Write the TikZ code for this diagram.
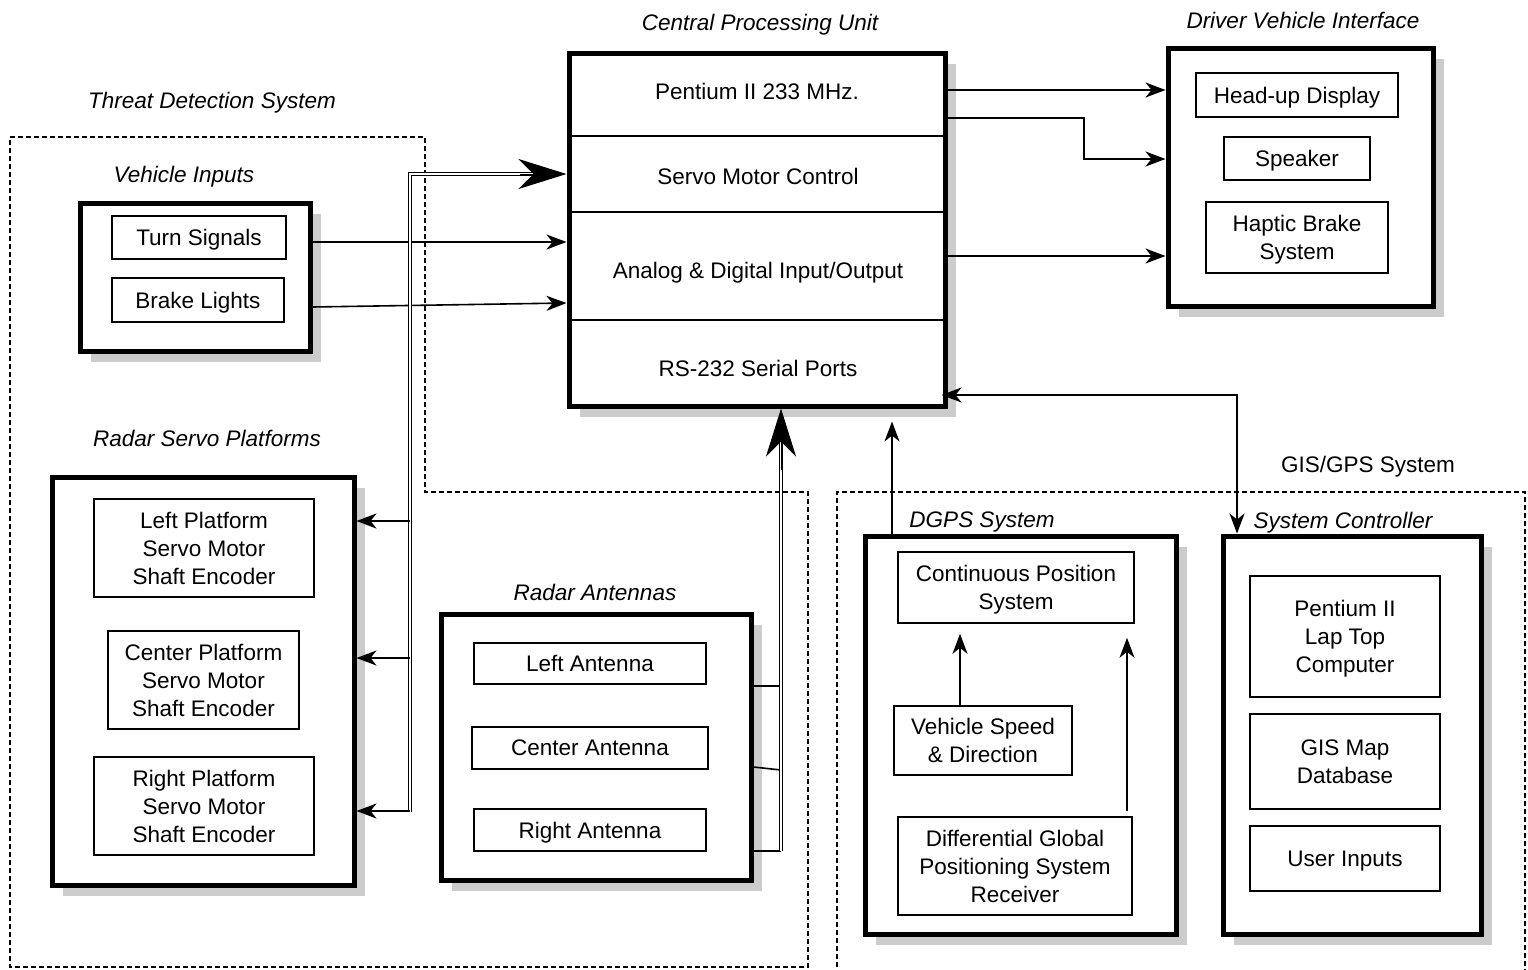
\documentclass[tikz,border=0pt]{standalone}
\usepackage{fontspec}
\setmainfont{Liberation Sans}
\usetikzlibrary{arrows.meta,shadows}
\begin{document}
\begin{tikzpicture}[x=1pt,y=-1pt,
  font=\fontsize{22.5}{28}\selectfont,
  bigbox/.style={draw, line width=5pt, fill=white, inner sep=0pt,
    drop shadow={shadow xshift=11pt, shadow yshift=-11pt, fill=black!20, opacity=1}},
  inbox/.style={draw, line width=1.6pt, fill=white, align=center, inner sep=0pt, text depth=0pt},
  title/.style={font=\fontsize{22.5}{28}\selectfont\itshape, inner sep=0pt, text depth=0pt},
  plain/.style={inner sep=0pt, text depth=0pt},
  conn/.style={line width=1.6pt},
  arr/.style={line width=1.6pt, -{Stealth[length=20pt,width=15pt,inset=6pt]}},
  arrtwo/.style={line width=1.6pt, {Stealth[length=20pt,width=15pt,inset=6pt]}-{Stealth[length=20pt,width=15pt,inset=6pt]}},
  bus/.style={line width=1.2pt, double=white, double distance=2.2pt},
  bigtip/.style={line width=1pt, -{Stealth[length=48pt,width=30pt,inset=15pt]}},
  region/.style={line width=1.5pt, dash pattern=on 5pt off 3pt},
  divider/.style={line width=1.8pt}
]
\useasboundingbox (0,0) rectangle (1528,969);

% dashed regions
\draw[region] (10,137) -- (425,137) -- (425,492) -- (808,492) -- (808,967) -- (10,967) -- cycle;
\draw[region] (837,975) -- (837,492) -- (1525,492) -- (1525,975);

% titles
\node[title] (ttds) at (212,100) {Threat Detection System};
\node[title] (tvi) at (184,174) {Vehicle Inputs};
\node[title] (trsp) at (207,438) {Radar Servo Platforms};
\node[title] (trant) at (595,592) {Radar Antennas};
\node[title] (tcpu) at (760,22) {Central Processing Unit};
\node[title] (tdvi) at (1303,20) {Driver Vehicle Interface};
\node[plain] (tgis) at (1368,464) {GIS/GPS System};
\node[title] (tdgps) at (982,520) {DGPS System};
\node[title] (tsc) at (1343,520) {System Controller};

% big boxes
\node[bigbox, minimum width=230pt, minimum height=148pt] (vi) at (195,277) {};
\node[bigbox, minimum width=302pt, minimum height=408pt] (rsp) at (203,681) {};
\node[bigbox, minimum width=310pt, minimum height=266pt] (rant) at (596,747) {};
\node[bigbox, minimum width=376pt, minimum height=353pt] (cpu) at (757,229.5) {};
\node[bigbox, minimum width=265pt, minimum height=258pt] (dvi) at (1300.5,177) {};
\node[bigbox, minimum width=311pt, minimum height=398pt] (dgps) at (1020.5,735) {};
\node[bigbox, minimum width=258pt, minimum height=398pt] (sc) at (1352,735) {};

% CPU sections
\draw[divider] (cpu.west |- 0,136) -- (cpu.east |- 0,136);
\draw[divider] (cpu.west |- 0,212) -- (cpu.east |- 0,212);
\draw[divider] (cpu.west |- 0,320) -- (cpu.east |- 0,320);
\node[plain] (pent) at (757,91) {Pentium II 233 MHz.};
\node[plain] (servo) at (758,176) {Servo Motor Control};
\node[plain] (aio) at (758,270) {Analog \& Digital Input/Output};
\node[plain] (rs) at (758,368) {RS-232 Serial Ports};

% inner boxes
\node[inbox, minimum width=174pt, minimum height=43pt] (ts) at (199,237.5) {Turn Signals};
\node[inbox, minimum width=172pt, minimum height=44pt] (bl) at (198,300) {Brake Lights};
\node[inbox, minimum width=220pt, minimum height=98pt] (lp) at (204,548) {Left Platform\\Servo Motor\\Shaft Encoder};
\node[inbox, minimum width=191pt, minimum height=98pt] (cp) at (203.5,680) {Center Platform\\Servo Motor\\Shaft Encoder};
\node[inbox, minimum width=220pt, minimum height=98pt] (rp) at (204,806) {Right Platform\\Servo Motor\\Shaft Encoder};
\node[inbox, minimum width=232pt, minimum height=41pt] (la) at (590,663.5) {Left Antenna};
\node[inbox, minimum width=236pt, minimum height=42pt] (ca) at (590,748) {Center Antenna};
\node[inbox, minimum width=232pt, minimum height=42pt] (ra) at (590,830) {Right Antenna};
\node[inbox, minimum width=202pt, minimum height=44pt] (hud) at (1297,95) {Head-up Display};
\node[inbox, minimum width=146pt, minimum height=43pt] (spk) at (1297,158.5) {Speaker};
\node[inbox, minimum width=182pt, minimum height=71pt] (hap) at (1297,237.5) {Haptic Brake\\System};
\node[inbox, minimum width=236pt, minimum height=71pt] (cps) at (1016,587.5) {Continuous Position\\System};
\node[inbox, minimum width=178pt, minimum height=69pt] (vsd) at (983,740.5) {Vehicle Speed\\\& Direction};
\node[inbox, minimum width=234pt, minimum height=98pt] (dgr) at (1015,866) {Differential Global\\Positioning System\\Receiver};
\node[inbox, minimum width=190pt, minimum height=121pt] (lap) at (1345,636.5) {Pentium II\\Lap Top\\Computer};
\node[inbox, minimum width=190pt, minimum height=95pt] (gis) at (1345,761.5) {GIS Map\\Database};
\node[inbox, minimum width=190pt, minimum height=65pt] (ui) at (1345,858.5) {User Inputs};

% vehicle inputs to CPU
\draw[arr] (vi.east |- 0,242) -- (cpu.west |- 0,242);
\draw[arr] (vi.east |- 0,307) -- (cpu.west |- 0,303);

% servo bus
\draw[bus, shorten >=20pt] (410,812) -- (410,174) -- (cpu.west |- 0,174);
\draw[bigtip] (520,174) -- (cpu.west |- 0,174);
\draw[arr] (410,521) -- (rsp.east |- 0,521);
\draw[arr] (410,658) -- (rsp.east |- 0,658);
\draw[arr] (410,811) -- (rsp.east |- 0,811);

% antenna bus
\draw[conn] (rant.east |- 0,686) -- (781,686);
\draw[conn] (rant.east |- 0,767) -- (781,770);
\draw[conn] (rant.east |- 0,851) -- (781,851);
\draw[bus, shorten >=20pt] (781,851) -- (cpu.south -| 781,0);
\draw[bigtip] (781,470) -- (cpu.south -| 781,0);

% CPU to driver vehicle interface
\draw[arr] (cpu.east |- 0,90) -- (dvi.west |- 0,90);
\draw[arr] (cpu.east |- 0,118) -- (1084,118) -- (1084,159) -- (dvi.west |- 0,159);
\draw[arr] (cpu.east |- 0,256) -- (dvi.west |- 0,256);

% GIS/GPS to CPU
\draw[arr, shorten >=13pt] (dgps.north -| 892,0) -- (cpu.south -| 892,0);
\draw[arrtwo, shorten <=-6pt] (cpu.east |- 0,395) -- (1237,395) -- (sc.north -| 1237,0);

% inside DGPS
\draw[arr, shorten >=10pt] (vsd.north -| 960,0) -- (cps.south -| 960,0);
\draw[arr, shorten <=5pt, shorten >=14pt] (dgr.north -| 1127,0) -- (cps.south -| 1127,0);
\end{tikzpicture}
\end{document}
